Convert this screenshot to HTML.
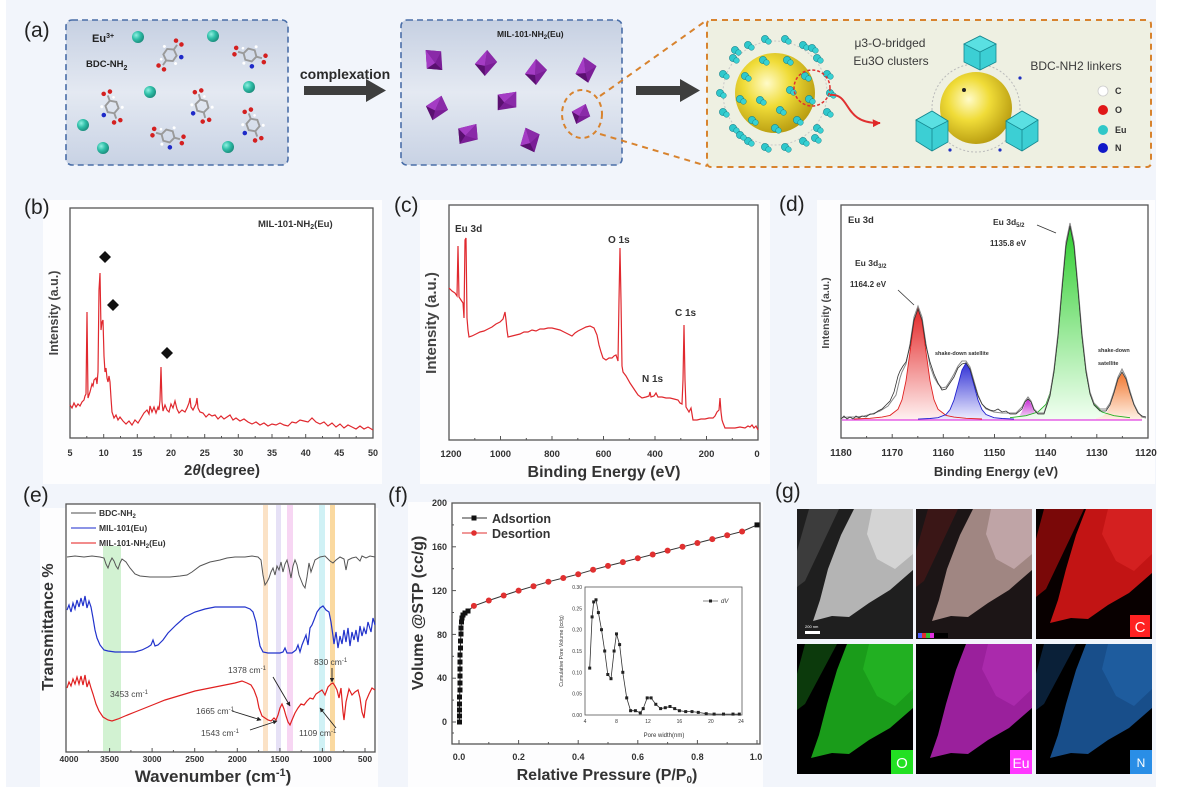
<!DOCTYPE html>
<html><head><meta charset="utf-8"><style>
html,body{margin:0;padding:0;background:#fff;}
svg{display:block;}
text{font-family:"Liberation Sans",Arial,sans-serif;}
.b{font-weight:bold;}
</style></head><body>
<svg width="1188" height="804" viewBox="0 0 1188 804" xmlns="http://www.w3.org/2000/svg">
<defs>
<linearGradient id="boxBg" x1="0" y1="0" x2="0" y2="1">
<stop offset="0" stop-color="#c6d0e2"/><stop offset="0.5" stop-color="#e4e9f2"/><stop offset="1" stop-color="#c8d2e4"/>
</linearGradient>
<radialGradient id="ysph" cx="0.4" cy="0.38" r="0.65">
<stop offset="0" stop-color="#fffbc8"/><stop offset="0.45" stop-color="#f0dc38"/><stop offset="1" stop-color="#b89c10"/>
</radialGradient>
<radialGradient id="teal" cx="0.35" cy="0.35" r="0.7">
<stop offset="0" stop-color="#8ff0e0"/><stop offset="0.5" stop-color="#2fbfa8"/><stop offset="1" stop-color="#1a8a7a"/>
</radialGradient>
<linearGradient id="gRed" x1="0" y1="0" x2="0" y2="1"><stop offset="0" stop-color="#e01010"/><stop offset="1" stop-color="#fff0f0"/></linearGradient>
<linearGradient id="gBlue" x1="0" y1="0" x2="0" y2="1"><stop offset="0" stop-color="#1a1ad0"/><stop offset="1" stop-color="#eeeeff"/></linearGradient>
<linearGradient id="gMag" x1="0" y1="0" x2="0" y2="1"><stop offset="0" stop-color="#c010d0"/><stop offset="1" stop-color="#f8e8f8"/></linearGradient>
<linearGradient id="gGreen" x1="0" y1="0" x2="0" y2="1"><stop offset="0" stop-color="#18c818"/><stop offset="1" stop-color="#f0fff0"/></linearGradient>
<linearGradient id="gOr" x1="0" y1="0" x2="0" y2="1"><stop offset="0" stop-color="#f06818"/><stop offset="1" stop-color="#fff2e6"/></linearGradient>
<marker id="ah" viewBox="0 0 10 10" refX="9" refY="5" markerWidth="5" markerHeight="5" orient="auto"><path d="M0,0 L10,5 L0,10 z" fill="#222"/></marker>
<marker id="ahr" viewBox="0 0 10 10" refX="9" refY="5" markerWidth="4" markerHeight="4" orient="auto"><path d="M0,0 L10,5 L0,10 z" fill="#e02828"/></marker>
<g id="mol">
<path d="M7,0 L3.5,6.1 L-3.5,6.1 L-7,0 L-3.5,-6.1 L3.5,-6.1 Z" fill="none" stroke="#9a9a9a" stroke-width="2"/>
<line x1="7" y1="0" x2="13" y2="0" stroke="#9a9a9a" stroke-width="2"/>
<line x1="-7" y1="0" x2="-13" y2="0" stroke="#9a9a9a" stroke-width="2"/>
<circle cx="16" cy="-3.5" r="2.4" fill="#d42020"/><circle cx="16" cy="3.5" r="2.4" fill="#d42020"/>
<circle cx="-16" cy="-3.5" r="2.4" fill="#d42020"/><circle cx="-16" cy="3.5" r="2.4" fill="#d42020"/>
<circle cx="4" cy="-10" r="1.6" fill="#fff"/><circle cx="-4" cy="10" r="1.6" fill="#fff"/><circle cx="-9" cy="-5" r="1.4" fill="#fff"/>
<circle cx="5" cy="11" r="2.4" fill="#1e2ac8"/>
</g>
<g id="oct">
<polygon points="0,-13 11,-2 0,13 -11,2" fill="#7a1e96"/>
<polygon points="0,-13 -11,2 -1,3" fill="#a43cc4"/>
<polygon points="0,-13 11,-2 -1,3" fill="#8a2aa8"/>
<polygon points="-11,2 -1,3 0,13" fill="#5a1070"/>
</g>
<g id="cb"><circle cx="0" cy="0" r="3.6" fill="#2ec8cc" stroke="#17868e" stroke-width="0.6"/><circle cx="3.5" cy="2.5" r="2.8" fill="#38d2d4" stroke="#17868e" stroke-width="0.5"/></g>
</defs>

<!-- backgrounds -->
<rect x="0" y="0" width="1188" height="804" fill="#ffffff"/>
<rect x="6" y="0" width="1150" height="787" fill="#f2f5fb"/>
<rect x="43" y="200" width="339" height="284" fill="#fdfdfe"/>
<rect x="420" y="200" width="350" height="284" fill="#fdfdfe"/>
<rect x="817" y="200" width="338" height="284" fill="#fdfdfe"/>
<rect x="40" y="508" width="338" height="279" fill="#fdfdfe"/>
<rect x="408" y="502" width="355" height="285" fill="#fdfdfe"/>

<!-- ===== (a) ===== -->
<text x="24" y="37" font-size="21" fill="#222">(a)</text>
<rect x="66" y="20" width="222" height="145" rx="6" fill="url(#boxBg)" stroke="#4a6ea8" stroke-width="1.6" stroke-dasharray="6,4"/>
<text x="92" y="42" font-size="11" class="b" fill="#222">Eu<tspan font-size="7" dy="-4">3+</tspan></text>
<text x="86" y="67" font-size="9.5" class="b" fill="#222">BDC-NH<tspan font-size="7" dy="3">2</tspan></text>
<use href="#mol" transform="translate(170,55) rotate(-55) scale(0.95)"/>
<use href="#mol" transform="translate(250,55) rotate(15) scale(0.95)"/>
<use href="#mol" transform="translate(112,107) rotate(70) scale(0.95)"/>
<use href="#mol" transform="translate(202,106) rotate(75) scale(0.95)"/>
<use href="#mol" transform="translate(168,136) rotate(15) scale(0.95)"/>
<use href="#mol" transform="translate(253,125) rotate(70) scale(0.95)"/>
<circle cx="138" cy="37" r="6" fill="url(#teal)"/>
<circle cx="213" cy="36" r="6" fill="url(#teal)"/>
<circle cx="150" cy="92" r="6" fill="url(#teal)"/>
<circle cx="249" cy="87" r="6" fill="url(#teal)"/>
<circle cx="83" cy="125" r="6" fill="url(#teal)"/>
<circle cx="103" cy="148" r="6" fill="url(#teal)"/>
<circle cx="228" cy="147" r="6" fill="url(#teal)"/>

<text x="345" y="79" font-size="14" class="b" fill="#2a2a2a" text-anchor="middle">complexation</text>
<rect x="304" y="86" width="64" height="9" fill="#3e3e3e"/>
<polygon points="366,79 386,90.5 366,102" fill="#3e3e3e"/>

<rect x="401" y="20" width="221" height="145" rx="6" fill="url(#boxBg)" stroke="#4a6ea8" stroke-width="1.6" stroke-dasharray="6,4"/>
<text x="497" y="37" font-size="8.5" class="b" fill="#222">MIL-101-NH<tspan font-size="6" dy="2">2</tspan><tspan dy="-2">(Eu)</tspan></text>
<use href="#oct" transform="translate(434,60) rotate(-40)"/>
<use href="#oct" transform="translate(486,63) rotate(5)"/>
<use href="#oct" transform="translate(536,72) rotate(0)"/>
<use href="#oct" transform="translate(586,70) rotate(-10)"/>
<use href="#oct" transform="translate(437,108) rotate(20)"/>
<use href="#oct" transform="translate(507,101) rotate(45)"/>
<use href="#oct" transform="translate(468,134) rotate(40)"/>
<use href="#oct" transform="translate(530,140) rotate(-20)"/>
<use href="#oct" transform="translate(581,114) rotate(25) scale(0.85)"/>
<ellipse cx="582" cy="114" rx="20" ry="24" fill="none" stroke="#d8832e" stroke-width="2" stroke-dasharray="5,4"/>

<rect x="636" y="86" width="46" height="9" fill="#3e3e3e"/>
<polygon points="680,79 700,90.5 680,102" fill="#3e3e3e"/>

<line x1="600" y1="96" x2="707" y2="20" stroke="#d8832e" stroke-width="2" stroke-dasharray="6,5"/>
<line x1="600" y1="134" x2="707" y2="166" stroke="#d8832e" stroke-width="2" stroke-dasharray="6,5"/>
<rect x="707" y="20" width="444" height="147" rx="4" fill="#eef0e2" stroke="#d8832e" stroke-width="2" stroke-dasharray="6,5"/>

<!-- left sphere cluster -->
<circle cx="775" cy="93" r="52" fill="none" stroke="#c8c8c8" stroke-width="1" stroke-dasharray="2,2"/>
<circle cx="775" cy="93" r="40" fill="url(#ysph)"/>
<g>
<use href="#cb" x="830" y="93"/><use href="#cb" x="827" y="112"/><use href="#cb" x="817" y="128"/><use href="#cb" x="803" y="141"/>
<use href="#cb" x="785" y="147"/><use href="#cb" x="765" y="147"/><use href="#cb" x="748" y="141"/><use href="#cb" x="733" y="128"/>
<use href="#cb" x="723" y="112"/><use href="#cb" x="720" y="93"/><use href="#cb" x="723" y="74"/><use href="#cb" x="733" y="58"/>
<use href="#cb" x="748" y="45"/><use href="#cb" x="765" y="39"/><use href="#cb" x="785" y="39"/><use href="#cb" x="803" y="45"/>
<use href="#cb" x="817" y="58"/><use href="#cb" x="827" y="74"/>
<use href="#cb" x="809" y="99"/><use href="#cb" x="797" y="120"/><use href="#cb" x="775" y="128"/><use href="#cb" x="752" y="120"/>
<use href="#cb" x="740" y="99"/><use href="#cb" x="745" y="76"/><use href="#cb" x="763" y="60"/><use href="#cb" x="787" y="60"/>
<use href="#cb" x="805" y="76"/><use href="#cb" x="790" y="90"/><use href="#cb" x="760" y="100"/><use href="#cb" x="780" y="110"/>
<use href="#cb" x="740" y="135"/><use href="#cb" x="815" y="138"/><use href="#cb" x="735" y="50"/><use href="#cb" x="812" y="48"/>
</g>
<circle cx="812" cy="88" r="18" fill="none" stroke="#e03030" stroke-width="1.5" stroke-dasharray="3,2"/>
<path d="M830,95 C852,93 842,124 880,123" fill="none" stroke="#e03030" stroke-width="2" marker-end="url(#ahr)"/>
<text x="890" y="47" font-size="12" fill="#3a3a3a" text-anchor="middle">μ3-O-bridged</text>
<text x="891" y="65" font-size="12" fill="#3a3a3a" text-anchor="middle">Eu3O clusters</text>

<!-- right sphere -->
<circle cx="976" cy="108" r="44" fill="none" stroke="#bbbbbb" stroke-width="1" stroke-dasharray="2,2"/>
<circle cx="976" cy="108" r="36" fill="url(#ysph)"/>
<g fill="#3ccfd4" stroke="#168890" stroke-width="0.8">
<polygon points="964,44 980,36 996,44 996,62 980,70 964,62"/>
<polygon points="964,44 980,52 996,44 980,36" fill="#5ae0e2"/>
<line x1="980" y1="52" x2="980" y2="70"/>
<polygon points="916,120 932,111 948,121 948,142 932,151 916,141"/>
<polygon points="916,120 932,129 948,121 932,111" fill="#5ae0e2"/>
<line x1="932" y1="129" x2="932" y2="151"/>
<polygon points="1006,121 1022,111 1038,120 1038,141 1022,151 1006,142"/>
<polygon points="1006,121 1022,130 1038,120 1022,111" fill="#5ae0e2"/>
<line x1="1022" y1="130" x2="1022" y2="151"/>
</g>
<circle cx="964" cy="90" r="2" fill="#222"/>
<circle cx="1020" cy="78" r="1.6" fill="#2030c0"/><circle cx="950" cy="150" r="1.6" fill="#2030c0"/><circle cx="1000" cy="150" r="1.6" fill="#2030c0"/>
<text x="1076" y="70" font-size="12" fill="#3a3a3a" text-anchor="middle">BDC-NH2 linkers</text>
<circle cx="1103" cy="91" r="5" fill="#ffffff" stroke="#cccccc" stroke-width="0.8"/>
<circle cx="1103" cy="110" r="5" fill="#e01818"/>
<circle cx="1103" cy="130" r="5" fill="#30c8c8"/>
<circle cx="1103" cy="148" r="5" fill="#1018c8"/>
<g font-size="9" class="b" fill="#333">
<text x="1115" y="94">C</text><text x="1115" y="113">O</text><text x="1115" y="133">Eu</text><text x="1115" y="151">N</text>
</g>

<!-- ===== (b) ===== -->
<text x="24" y="214" font-size="21" fill="#222">(b)</text>
<rect x="70" y="208" width="303" height="230" fill="#fff" stroke="#555" stroke-width="1.3"/>
<g stroke="#555" stroke-width="1">
<line x1="103.7" y1="438" x2="103.7" y2="434"/><line x1="137.3" y1="438" x2="137.3" y2="434"/><line x1="171" y1="438" x2="171" y2="434"/><line x1="204.7" y1="438" x2="204.7" y2="434"/><line x1="238.3" y1="438" x2="238.3" y2="434"/><line x1="272" y1="438" x2="272" y2="434"/><line x1="305.7" y1="438" x2="305.7" y2="434"/><line x1="339.3" y1="438" x2="339.3" y2="434"/>
<line x1="86.8" y1="438" x2="86.8" y2="436"/><line x1="120.5" y1="438" x2="120.5" y2="436"/><line x1="154.2" y1="438" x2="154.2" y2="436"/><line x1="187.8" y1="438" x2="187.8" y2="436"/><line x1="221.5" y1="438" x2="221.5" y2="436"/><line x1="255.2" y1="438" x2="255.2" y2="436"/><line x1="288.8" y1="438" x2="288.8" y2="436"/><line x1="322.5" y1="438" x2="322.5" y2="436"/><line x1="356.2" y1="438" x2="356.2" y2="436"/>
</g>
<g font-size="9" class="b" fill="#333" text-anchor="middle">
<text x="70" y="456">5</text><text x="103.7" y="456">10</text><text x="137.3" y="456">15</text><text x="171" y="456">20</text><text x="204.7" y="456">25</text><text x="238.3" y="456">30</text><text x="272" y="456">35</text><text x="305.7" y="456">40</text><text x="339.3" y="456">45</text><text x="373" y="456">50</text>
</g>
<text x="222" y="475" font-size="15" class="b" fill="#333" text-anchor="middle">2<tspan font-style="italic">θ</tspan>(degree)</text>
<text transform="translate(58,313) rotate(-90)" font-size="12.5" class="b" fill="#444" text-anchor="middle">Intensity (a.u.)</text>
<text x="258" y="227" font-size="9.5" class="b" fill="#333">MIL-101-NH<tspan font-size="7" dy="2">2</tspan><tspan dy="-2">(Eu)</tspan></text>
<polyline fill="none" stroke="#e0282e" stroke-width="1.2" points="70,405 72,408 74,403 76,407 78,404 80,406 82,402 84,400 85,396 86,394 87,312 88,398 90,392 92,384 93,386 94,380 96,378 97,384 98,372 99,290 100,273 101,330 102,322 103,320 104,356 105,372 106,368 107,378 108,382 109,376 110,382 111,398 112,412 114,418 116,415 118,420 120,417 123,421 126,424 129,421 132,425 135,420 138,423 141,418 144,413 147,410 149,414 150,406 152,412 154,407 156,413 158,407 159,410 160,400 161,367 162,402 163,411 165,405 167,410 169,412 171,404 173,408 175,401 177,409 179,413 182,410 185,412 187,408 189,403 190,398 191,407 193,410 196,404 197,398 198,408 200,412 203,413 206,417 209,414 212,416 215,415 218,419 221,416 224,419 227,417 230,415 233,420 236,418 240,421 244,419 248,422 252,424 256,422 260,425 264,423 268,426 272,424 276,425 280,423 284,425 288,426 292,422 296,423 300,420 304,421 308,422 312,418 316,422 320,424 324,422 328,426 332,423 336,427 340,424 344,428 348,425 352,427 356,429 360,426 364,429 368,427 373,430"/>
<g fill="#111">
<polygon points="105,251 111,257 105,263 99,257"/>
<polygon points="113,299 119,305 113,311 107,305"/>
<polygon points="167,347 173,353 167,359 161,353"/>
</g>

<!-- ===== (c) ===== -->
<text x="394" y="212" font-size="21" fill="#222">(c)</text>
<rect x="449" y="205" width="309" height="235" fill="#fff" stroke="#555" stroke-width="1.3"/>
<g stroke="#555" stroke-width="1">
<line x1="500.5" y1="440" x2="500.5" y2="436"/><line x1="552" y1="440" x2="552" y2="436"/><line x1="603.5" y1="440" x2="603.5" y2="436"/><line x1="655" y1="440" x2="655" y2="436"/><line x1="706.5" y1="440" x2="706.5" y2="436"/>
<line x1="474.8" y1="440" x2="474.8" y2="438"/><line x1="526.3" y1="440" x2="526.3" y2="438"/><line x1="577.8" y1="440" x2="577.8" y2="438"/><line x1="629.3" y1="440" x2="629.3" y2="438"/><line x1="680.8" y1="440" x2="680.8" y2="438"/><line x1="732.3" y1="440" x2="732.3" y2="438"/>
</g>
<g font-size="9.5" class="b" fill="#333" text-anchor="middle">
<text x="451" y="457">1200</text><text x="500.5" y="457">1000</text><text x="552" y="457">800</text><text x="603.5" y="457">600</text><text x="655" y="457">400</text><text x="706.5" y="457">200</text><text x="757" y="457">0</text>
</g>
<text x="604" y="477" font-size="16" class="b" fill="#333" text-anchor="middle">Binding Energy (eV)</text>
<text transform="translate(436,323) rotate(-90)" font-size="15" class="b" fill="#444" text-anchor="middle">Intensity (a.u.)</text>
<g font-size="10" class="b" fill="#333">
<text x="455" y="232">Eu 3d</text><text x="608" y="243">O 1s</text><text x="675" y="316">C 1s</text><text x="642" y="382">N 1s</text>
</g>
<polyline fill="none" stroke="#e0282e" stroke-width="1.2" points="449,288 452,291 455,293 457,296 458,246 459,297 461,300 463,303 464,318 465,240 466,238 467,318 468,330 469,337 472,336 476,334 480,332 484,331 488,329 492,327 496,324 500,322 503,319 505,312 506,320 507,330 508,337 512,336 516,335 520,334 524,332 528,332 532,330 536,331 540,329 544,329 548,328 552,328 556,329 560,330 564,332 568,334 572,336 575,333 578,331 582,329 586,327 590,326 594,328 597,335 599,345 601,352 603,358 606,360 609,358 612,358 614,356 616,355 618,361 619,300 620,248 621,300 622,366 623,372 626,376 630,383 634,389 638,395 642,398 646,397 649,396 650,392 651,397 654,396 656,393 658,397 662,397 666,398 670,398 674,399 678,400 680,403 682,404 683,380 684,325 685,380 686,407 689,412 691,408 692,414 693,420 697,420 701,419 705,419 709,418 713,418 715,416 717,412 719,410 720,398 721,412 722,420 723,423 725,428 730,428 735,428 740,427 745,428 748,426 750,427 752,425 754,428 756,426 758,430"/>

<!-- ===== (d) ===== -->
<text x="779" y="211" font-size="21" fill="#222">(d)</text>
<rect x="841" y="205" width="307" height="233" fill="#fff" stroke="#555" stroke-width="1.3"/>
<g stroke="#555" stroke-width="1">
<line x1="892.2" y1="438" x2="892.2" y2="434"/><line x1="943.3" y1="438" x2="943.3" y2="434"/><line x1="994.5" y1="438" x2="994.5" y2="434"/><line x1="1045.7" y1="438" x2="1045.7" y2="434"/><line x1="1096.8" y1="438" x2="1096.8" y2="434"/>
<line x1="866.6" y1="438" x2="866.6" y2="436"/><line x1="917.8" y1="438" x2="917.8" y2="436"/><line x1="968.9" y1="438" x2="968.9" y2="436"/><line x1="1020.1" y1="438" x2="1020.1" y2="436"/><line x1="1071.3" y1="438" x2="1071.3" y2="436"/><line x1="1122.4" y1="438" x2="1122.4" y2="436"/>
</g>
<g font-size="10" class="b" fill="#333" text-anchor="middle">
<text x="841" y="456">1180</text><text x="892.2" y="456">1170</text><text x="943.3" y="456">1160</text><text x="994.5" y="456">1150</text><text x="1045.7" y="456">1140</text><text x="1096.8" y="456">1130</text><text x="1146" y="456">1120</text>
</g>
<text x="996" y="476" font-size="13" class="b" fill="#333" text-anchor="middle">Binding Energy (eV)</text>
<text transform="translate(829,313) rotate(-90)" font-size="10.5" class="b" fill="#444" text-anchor="middle">Intensity (a.u.)</text>
<path fill="url(#gRed)" opacity="0.9" d="M846,420 L854,419 870,418.3 882,417.1 890,415.4 898,409.2 902,399.8 906,380.8 910,351.9 914,321.7 918,308 922,321.7 926,351.9 930,380.8 934,399.8 938,409.2 946,415.4 954,417.1 966,418.3 982,419 982,420 Z"/>
<path fill="url(#gBlue)" opacity="0.9" d="M918,420 L918,419.1 930,418.5 938,417.7 946,414.5 950,409.7 954,400 958,385.3 962,370 966,363 970,370 974,385.3 978,400 982,409.7 986,414.5 994,417.7 1002,418.5 1014,419.1 1014,420 Z"/>
<path fill="url(#gMag)" opacity="0.9" d="M1010,420 L1010,419.4 1016,418.5 1019,416.5 1022,411.4 1025,403.5 1028,399 1031,403.5 1034,411.4 1037,416.5 1040,418.5 1046,419.4 1046,420 Z"/>
<path fill="url(#gGreen)" opacity="0.9" d="M1010,420 L1010,417.7 1026,415.7 1038,412 1046,404.3 1050,393.2 1054,371.5 1058,335.8 1062,288.5 1066,244.6 1070,226 1074,244.6 1078,288.5 1082,335.8 1086,371.5 1090,393.2 1094,404.3 1102,412 1114,415.7 1130,417.7 1130,420 Z"/>
<path fill="url(#gOr)" opacity="0.9" d="M1096,420 L1096,418.2 1102,416.6 1106,413.5 1110,406.4 1114,394 1118,379.8 1122,373 1126,379.8 1130,394 1134,406.4 1138,413.5 1142,416.6 1142,420 Z"/>
<line x1="842" y1="420" x2="1142" y2="420" stroke="#e040e0" stroke-width="1.3"/>
<polyline fill="none" stroke="#e02020" stroke-width="0.9" points="854,419 870,418.3 882,417.1 890,415.4 898,409.2 902,399.8 906,380.8 910,351.9 914,321.7 918,308 922,321.7 926,351.9 930,380.8 934,399.8 938,409.2 946,415.4 954,417.1 966,418.3 982,419"/>
<polyline fill="none" stroke="#2020d0" stroke-width="0.9" points="918,419.1 930,418.5 938,417.7 946,414.5 950,409.7 954,400 958,385.3 962,370 966,363 970,370 974,385.3 978,400 982,409.7 986,414.5 994,417.7 1002,418.5 1014,419.1"/>
<polyline fill="none" stroke="#20b020" stroke-width="0.9" points="1010,417.7 1026,415.7 1038,412 1046,404.3 1050,393.2 1054,371.5 1058,335.8 1062,288.5 1066,244.6 1070,226 1074,244.6 1078,288.5 1082,335.8 1086,371.5 1090,393.2 1094,404.3 1102,412 1114,415.7 1130,417.7"/>
<polyline fill="none" stroke="#888" stroke-width="1" points="841,418 848,417 856,417 864,416 872,414 880,411 888,406 896,395 900,378 902,372 906,364 910,344 914,317 918,306 922,317 926,344 930,366 934,377 938,384 942,388 946,387 950,381 954,374 958,366 962,361 966,361 970,367 974,381 978,395 982,404 986,409 994,412 1002,413 1010,413 1016,413 1022,407 1025,401 1028,397 1031,401 1034,409 1038,413 1044,413 1050,394 1054,369 1058,333 1062,286 1066,242 1070,223 1074,242 1078,286 1082,333 1086,369 1090,392 1094,403 1100,409 1106,409 1110,403 1114,391 1118,377 1122,369 1126,377 1130,391 1134,404 1138,412 1142,417 1146,418"/>
<polyline fill="none" stroke="#333" stroke-width="0.8" points="841,419 844,416 847,419 850,417 853,419 856,416 859,418 862,416 866,417 870,414 874,414 878,411 882,409 886,405 890,401 894,392 898,376 900,371 903,366 906,362 910,346 914,320 918,309 922,320 926,346 930,362 934,374 938,383 942,390 946,389 950,383 954,377 958,368 962,364 966,363 970,369 974,383 978,396 982,404 986,408 990,410 994,411 998,409 1002,412 1006,411 1010,414 1016,414 1022,409 1025,402 1028,399 1031,402 1034,410 1038,414 1044,414 1050,396 1054,372 1058,337 1062,290 1066,246 1070,226 1074,246 1078,290 1082,337 1086,372 1090,394 1094,405 1100,411 1106,411 1110,405 1114,393 1118,379 1122,372 1126,379 1130,393 1134,405 1138,413 1142,416 1146,417"/>
<g class="b" fill="#333">
<text x="848" y="223" font-size="9.5">Eu 3d</text>
<text x="993" y="225" font-size="8.5">Eu 3d<tspan font-size="6" dy="2">5/2</tspan></text>
<text x="990" y="246" font-size="8">1135.8 eV</text>
<text x="855" y="266" font-size="8.5">Eu 3d<tspan font-size="6" dy="2">3/2</tspan></text>
<text x="850" y="287" font-size="8">1164.2 eV</text>
<text x="935" y="355" font-size="5.5">shake-down satellite</text>
<text x="1098" y="352" font-size="5.5">shake-down</text>
<text x="1098" y="365" font-size="5.5">satellite</text>
</g>
<line x1="1037" y1="225" x2="1056" y2="233" stroke="#333" stroke-width="0.8"/>
<line x1="898" y1="290" x2="914" y2="305" stroke="#333" stroke-width="0.8"/>

<!-- ===== (e) ===== -->
<text x="23" y="502" font-size="21" fill="#222">(e)</text>
<rect x="66" y="504" width="309" height="248" fill="#fff" stroke="#555" stroke-width="1.3"/>
<rect x="103" y="546" width="18" height="205" fill="#9be39b" opacity="0.45"/>
<rect x="263" y="505" width="5" height="246" fill="#f8cfa0" opacity="0.6"/>
<rect x="276" y="505" width="5" height="246" fill="#dcd4f2" opacity="0.7"/>
<rect x="287" y="505" width="6" height="246" fill="#f4c4ee" opacity="0.7"/>
<rect x="319" y="505" width="6" height="246" fill="#c4eef2" opacity="0.8"/>
<rect x="330" y="505" width="5" height="246" fill="#f6c060" opacity="0.6"/>
<g stroke="#555" stroke-width="1">
<line x1="109.6" y1="752" x2="109.6" y2="748"/><line x1="152.1" y1="752" x2="152.1" y2="748"/><line x1="194.7" y1="752" x2="194.7" y2="748"/><line x1="237.3" y1="752" x2="237.3" y2="748"/><line x1="279.9" y1="752" x2="279.9" y2="748"/><line x1="322.4" y1="752" x2="322.4" y2="748"/><line x1="365" y1="752" x2="365" y2="748"/>
<line x1="88.3" y1="752" x2="88.3" y2="750"/><line x1="130.9" y1="752" x2="130.9" y2="750"/><line x1="173.4" y1="752" x2="173.4" y2="750"/><line x1="216" y1="752" x2="216" y2="750"/><line x1="258.6" y1="752" x2="258.6" y2="750"/><line x1="301.2" y1="752" x2="301.2" y2="750"/><line x1="343.7" y1="752" x2="343.7" y2="750"/>
</g>
<g font-size="8.5" class="b" fill="#333" text-anchor="middle">
<text x="69" y="762">4000</text><text x="109.6" y="762">3500</text><text x="152.1" y="762">3000</text><text x="194.7" y="762">2500</text><text x="237.3" y="762">2000</text><text x="279.9" y="762">1500</text><text x="322.4" y="762">1000</text><text x="365" y="762">500</text>
</g>
<text x="213" y="782" font-size="17" class="b" fill="#333" text-anchor="middle">Wavenumber (cm<tspan font-size="11" dy="-6">-1</tspan><tspan dy="6">)</tspan></text>
<text transform="translate(53,627) rotate(-90)" font-size="16" class="b" fill="#333" text-anchor="middle">Transmittance %</text>
<line x1="71" y1="513" x2="96" y2="513" stroke="#888" stroke-width="1.5"/>
<line x1="71" y1="528" x2="96" y2="528" stroke="#6670dd" stroke-width="1.5"/>
<line x1="71" y1="543" x2="96" y2="543" stroke="#ee6666" stroke-width="1.5"/>
<g font-size="8.5" class="b" fill="#333">
<text x="99" y="516">BDC-NH<tspan font-size="6" dy="2">2</tspan></text>
<text x="99" y="531">MIL-101(Eu)</text>
<text x="99" y="546">MIL-101-NH<tspan font-size="6" dy="2">2</tspan><tspan dy="-2">(Eu)</tspan></text>
</g>
<polyline fill="none" stroke="#555" stroke-width="1" points="67,557 75,556 84,557 92,556 100,557 104,558 106,564 108,568 110,562 112,558 114,561 116,566 118,569 120,563 122,559 126,562 130,568 135,574 140,576 150,577 160,577 170,577 180,576 187,575 192,572 200,566 210,562 220,560 227,558 235,557 245,557 252,556 258,557 261,560 263,575 265,585 267,582 269,578 271,572 273,568 275,575 277,566 279,570 281,562 283,572 285,564 287,560 289,568 291,578 293,566 295,560 297,565 299,575 301,580 303,585 305,588 307,577 309,563 311,572 313,566 315,560 320,557 325,556 330,561 333,563 336,560 340,557 344,559 346,570 348,560 352,558 356,557 360,561 362,556 366,558 370,556 375,557"/>
<polyline fill="none" stroke="#2233cc" stroke-width="1.2" points="67,610 69,605 71,612 73,603 75,609 77,600 79,607 81,598 83,606 85,596 87,608 89,601 91,607 93,618 95,630 97,638 100,645 104,650 108,651 115,652 125,652 135,652 142,650 148,647 151,645 153,640 155,646 158,645 163,640 168,633 176,625 185,617 195,612 205,609 215,607 225,607 235,607 245,607 250,609 253,612 256,622 258,635 260,646 263,652 268,653 275,653 280,653 283,652 285,648 287,653 292,653 296,650 298,645 300,652 302,645 304,640 306,635 308,645 310,628 312,625 314,620 317,612 320,608 323,606 326,610 329,612 331,622 333,636 334,644 336,632 338,648 340,636 342,644 344,630 346,642 348,628 350,646 352,632 354,640 356,630 358,642 360,626 362,636 364,628 366,634 368,622 371,632 373,618 375,625"/>
<polyline fill="none" stroke="#e02020" stroke-width="1.2" points="67,688 69,682 71,686 73,679 75,684 77,677 79,684 81,676 83,685 85,675 87,687 89,681 91,688 93,694 96,704 99,711 103,717 108,720 112,721 118,719 125,716 135,712 145,708 155,704 165,700 175,697 185,694 195,691 205,689 215,687 225,685 235,683 242,681 247,683 251,685 254,690 257,698 259,708 262,716 265,718 268,720 271,721 274,718 276,720 278,715 280,708 282,704 284,709 286,716 288,722 290,725 292,720 295,713 298,708 301,704 304,705 307,701 310,698 313,699 316,694 319,692 322,690 325,695 328,687 331,684 333,683 335,686 337,690 339,698 341,688 343,712 344,720 346,702 349,689 352,695 355,692 358,690 360,698 362,712 364,718 366,701 369,694 372,688 375,690"/>
<g font-size="8.5" fill="#444">
<text x="110" y="697">3453 cm<tspan font-size="6" dy="-3">-1</tspan></text>
<text x="228" y="673">1378 cm<tspan font-size="6" dy="-3">-1</tspan></text>
<text x="196" y="714">1665 cm<tspan font-size="6" dy="-3">-1</tspan></text>
<text x="201" y="736">1543 cm<tspan font-size="6" dy="-3">-1</tspan></text>
<text x="314" y="665">830 cm<tspan font-size="6" dy="-3">-1</tspan></text>
<text x="299" y="736">1109 cm<tspan font-size="6" dy="-3">-1</tspan></text>
</g>
<g stroke="#222" stroke-width="0.9" marker-end="url(#ah)">
<line x1="273" y1="677" x2="290" y2="706"/>
<line x1="232" y1="711" x2="261" y2="720"/>
<line x1="250" y1="730" x2="277" y2="721"/>
<line x1="332" y1="668" x2="332" y2="682"/>
<line x1="336" y1="728" x2="320" y2="708"/>
</g>

<!-- ===== (f) ===== -->
<text x="388" y="502" font-size="21" fill="#222">(f)</text>
<rect x="452" y="503" width="308" height="241" fill="#fff" stroke="#555" stroke-width="1.3"/>
<g stroke="#555" stroke-width="1">
<line x1="452" y1="722" x2="456" y2="722"/><line x1="452" y1="678.2" x2="456" y2="678.2"/><line x1="452" y1="634.4" x2="456" y2="634.4"/><line x1="452" y1="590.6" x2="456" y2="590.6"/><line x1="452" y1="546.8" x2="456" y2="546.8"/>
<line x1="452" y1="700.1" x2="454" y2="700.1"/><line x1="452" y1="656.3" x2="454" y2="656.3"/><line x1="452" y1="612.5" x2="454" y2="612.5"/><line x1="452" y1="568.7" x2="454" y2="568.7"/><line x1="452" y1="524.9" x2="454" y2="524.9"/><line x1="452" y1="733" x2="454" y2="733"/>
<line x1="459" y1="744" x2="459" y2="740"/><line x1="518.6" y1="744" x2="518.6" y2="740"/><line x1="578.2" y1="744" x2="578.2" y2="740"/><line x1="637.8" y1="744" x2="637.8" y2="740"/><line x1="697.4" y1="744" x2="697.4" y2="740"/><line x1="757" y1="744" x2="757" y2="740"/>
<line x1="488.8" y1="744" x2="488.8" y2="742"/><line x1="548.4" y1="744" x2="548.4" y2="742"/><line x1="608" y1="744" x2="608" y2="742"/><line x1="667.6" y1="744" x2="667.6" y2="742"/><line x1="727.2" y1="744" x2="727.2" y2="742"/>
</g>
<g font-size="9" class="b" fill="#333" text-anchor="end">
<text x="447" y="506">200</text><text x="447" y="550">160</text><text x="447" y="594">120</text><text x="447" y="638">80</text><text x="447" y="681">40</text><text x="447" y="725">0</text>
</g>
<g font-size="9" class="b" fill="#333" text-anchor="middle">
<text x="459" y="760">0.0</text><text x="518.6" y="760">0.2</text><text x="578.2" y="760">0.4</text><text x="637.8" y="760">0.6</text><text x="697.4" y="760">0.8</text><text x="756" y="760">1.0</text>
</g>
<text x="607" y="780" font-size="16" class="b" fill="#333" text-anchor="middle">Relative Pressure (P/P<tspan font-size="10" dy="3">0</tspan><tspan dy="-3">)</tspan></text>
<text transform="translate(423,613) rotate(-90)" font-size="16" class="b" fill="#333" text-anchor="middle">Volume @STP (cc/g)</text>
<line x1="462" y1="518" x2="487" y2="518" stroke="#333" stroke-width="1"/>
<rect x="471.5" y="515.5" width="5" height="5" fill="#111"/>
<line x1="462" y1="533" x2="487" y2="533" stroke="#e03030" stroke-width="1"/>
<circle cx="474" cy="533" r="2.8" fill="#e03030"/>
<text x="492" y="523" font-size="12.5" class="b" fill="#333">Adsortion</text>
<text x="492" y="538" font-size="12.5" class="b" fill="#333">Desortion</text>
<polyline fill="none" stroke="#333" stroke-width="1" points="459.5,722 459.5,704 460,683 460,662 460.5,645 461,630 461.5,622 462,618 463,615 465,613 468,611 473.9,605.9 488.8,600.5 503.7,595.5 518.6,590.6 533.5,586.2 548.4,581.8 563.3,578 578.2,574.2 593.1,569.8 608,565.9 622.9,562.1 637.8,558.3 652.7,554.5 667.6,550.6 682.5,546.8 697.4,543 712.3,539.1 727.2,535.3 742.1,531.5 757,524.9"/>
<g fill="#111">
<rect x="457" y="719.5" width="5" height="5"/><rect x="457" y="713.5" width="5" height="5"/><rect x="457" y="707.5" width="5" height="5"/><rect x="457" y="701.5" width="5" height="5"/><rect x="457" y="694.5" width="5" height="5"/><rect x="457.5" y="687.5" width="5" height="5"/><rect x="457.5" y="680.5" width="5" height="5"/><rect x="457.5" y="673.5" width="5" height="5"/><rect x="457.5" y="666.5" width="5" height="5"/><rect x="457.5" y="659.5" width="5" height="5"/><rect x="457.5" y="652.5" width="5" height="5"/><rect x="458" y="645.5" width="5" height="5"/><rect x="458" y="638.5" width="5" height="5"/><rect x="458.5" y="631.5" width="5" height="5"/><rect x="458.5" y="625.5" width="5" height="5"/><rect x="459" y="619.5" width="5" height="5"/><rect x="459.5" y="615.5" width="5" height="5"/><rect x="460.5" y="612.5" width="5" height="5"/><rect x="462.5" y="610.5" width="5" height="5"/><rect x="465.5" y="608.5" width="5" height="5"/><rect x="754.5" y="522.4" width="5" height="5"/>
</g>
<g fill="#e03030">
<circle cx="473.9" cy="605.9" r="3"/><circle cx="488.8" cy="600.5" r="3"/><circle cx="503.7" cy="595.5" r="3"/><circle cx="518.6" cy="590.6" r="3"/><circle cx="533.5" cy="586.2" r="3"/><circle cx="548.4" cy="581.8" r="3"/><circle cx="563.3" cy="578" r="3"/><circle cx="578.2" cy="574.2" r="3"/><circle cx="593.1" cy="569.8" r="3"/><circle cx="608" cy="565.9" r="3"/><circle cx="622.9" cy="562.1" r="3"/><circle cx="637.8" cy="558.3" r="3"/><circle cx="652.7" cy="554.5" r="3"/><circle cx="667.6" cy="550.6" r="3"/><circle cx="682.5" cy="546.8" r="3"/><circle cx="697.4" cy="543" r="3"/><circle cx="712.3" cy="539.1" r="3"/><circle cx="727.2" cy="535.3" r="3"/><circle cx="742.1" cy="531.5" r="3"/>
</g>
<!-- inset -->
<rect x="585" y="587" width="157" height="128" fill="#fff" stroke="#555" stroke-width="0.8"/>
<g font-size="5" fill="#333" text-anchor="end">
<text x="582" y="717">0.00</text><text x="582" y="695.7">0.05</text><text x="582" y="674.3">0.10</text><text x="582" y="653">0.15</text><text x="582" y="631.7">0.20</text><text x="582" y="610.3">0.25</text><text x="582" y="589">0.30</text>
</g>
<g font-size="5" fill="#333" text-anchor="middle">
<text x="585" y="723">4</text><text x="616.5" y="723">8</text><text x="648" y="723">12</text><text x="679.4" y="723">16</text><text x="710.9" y="723">20</text><text x="741" y="723">24</text>
</g>
<text x="664" y="737" font-size="6" fill="#333" text-anchor="middle">Pore width(nm)</text>
<text transform="translate(563,651) rotate(-90)" font-size="5.2" fill="#333" text-anchor="middle">Cumulative Pore Volume (cc/g)</text>
<line x1="703" y1="601" x2="718" y2="601" stroke="#333" stroke-width="0.6"/><rect x="709" y="599.5" width="3" height="3" fill="#222"/>
<text x="721" y="603" font-size="6" font-style="italic" fill="#333">dV</text>
<polyline fill="none" stroke="#333" stroke-width="0.8" points="589.7,668.1 592.1,616.9 593.7,601.9 596,599.8 598.4,612.6 601.5,629.7 604.7,651 607.8,674.5 611,678.7 614.1,651 616.5,633.9 619.6,644.6 622.8,672.3 626.7,697.9 630.6,710.7 635.4,710.7 640.3,712.9 643.2,708.6 647.2,697.9 651.1,697.9 655.8,704.3 660.6,708.6 665.3,707.7 670,706.5 674.7,708.6 679.4,710.7 685.7,711.6 692,711.6 698.3,712.4 706.2,713.7 714.1,714.1 723.5,714.1 733,714.1 739.3,714.1"/>
<g fill="#222">
<rect x="588.2" y="666.6" width="3" height="3"/><rect x="590.6" y="615.4" width="3" height="3"/><rect x="592.2" y="600.4" width="3" height="3"/><rect x="594.5" y="598.3" width="3" height="3"/><rect x="596.9" y="611.1" width="3" height="3"/><rect x="600" y="628.2" width="3" height="3"/><rect x="603.2" y="649.5" width="3" height="3"/><rect x="606.3" y="673" width="3" height="3"/><rect x="609.5" y="677.2" width="3" height="3"/><rect x="612.6" y="649.5" width="3" height="3"/><rect x="615" y="632.4" width="3" height="3"/><rect x="618.1" y="643.1" width="3" height="3"/><rect x="621.3" y="670.8" width="3" height="3"/><rect x="625.2" y="696.4" width="3" height="3"/><rect x="629.1" y="709.2" width="3" height="3"/><rect x="633.9" y="709.2" width="3" height="3"/><rect x="638.8" y="711.4" width="3" height="3"/><rect x="641.7" y="707.1" width="3" height="3"/><rect x="645.7" y="696.4" width="3" height="3"/><rect x="649.6" y="696.4" width="3" height="3"/><rect x="654.3" y="702.8" width="3" height="3"/><rect x="659.1" y="707.1" width="3" height="3"/><rect x="663.8" y="706.2" width="3" height="3"/><rect x="668.5" y="705" width="3" height="3"/><rect x="673.2" y="707.1" width="3" height="3"/><rect x="677.9" y="709.2" width="3" height="3"/><rect x="684.2" y="710.1" width="3" height="3"/><rect x="690.5" y="710.1" width="3" height="3"/><rect x="696.8" y="710.9" width="3" height="3"/><rect x="704.7" y="712.2" width="3" height="3"/><rect x="712.6" y="712.6" width="3" height="3"/><rect x="722" y="712.6" width="3" height="3"/><rect x="731.5" y="712.6" width="3" height="3"/><rect x="737.8" y="712.6" width="3" height="3"/>
</g>

<!-- ===== (g) ===== -->
<text x="775" y="498" font-size="21" fill="#222">(g)</text>
<g transform="translate(797,509)">
<rect width="116" height="130" fill="#1f1f1f"/>
<polygon points="12,0 42,0 8,72 0,78 0,42" fill="#3c3c3c"/>
<polygon points="57,0 116,0 116,61 93,81 72,94 52,108 35,107 16,112 23,91 31,60 44,26" fill="#b4b4b4"/>
<polygon points="75,0 116,0 116,45 98,60 80,50 70,25" fill="#d4d4d4"/>
<rect x="8" y="122" width="15" height="3" fill="#fff"/>
<text x="8" y="119" font-size="4" fill="#fff">200 nm</text>
</g>
<g transform="translate(916,509)">
<rect width="116" height="130" fill="#1c1516"/>
<polygon points="12,0 42,0 8,72 0,78 0,42" fill="#3a1616"/>
<polygon points="57,0 116,0 116,61 93,81 72,94 52,108 35,107 16,112 23,91 31,60 44,26" fill="#a08682"/>
<polygon points="75,0 116,0 116,45 98,60 80,50 70,25" fill="#bfa4a6"/>
<rect x="2" y="124" width="4" height="5" fill="#5060ff"/><rect x="6" y="124" width="4" height="5" fill="#e03030"/><rect x="10" y="124" width="4" height="5" fill="#30c030"/><rect x="14" y="124" width="4" height="5" fill="#e030e0"/><rect x="18" y="124" width="14" height="5" fill="#000"/>
</g>
<g transform="translate(1036,509)">
<rect width="116" height="130" fill="#080000"/>
<polygon points="8,0 48,0 10,80 0,88 0,30" fill="#7a0808"/>
<polygon points="50,0 116,0 116,64 93,84 72,96 52,110 35,109 14,114 22,91 30,60 40,26" fill="#c21414"/>
<polygon points="72,0 116,0 116,45 98,62 80,52 66,25" fill="#d42020"/>
<rect x="94" y="106" width="20" height="22" fill="#ff2222"/>
<text x="104" y="123" font-size="15" fill="#fff" text-anchor="middle">C</text>
</g>
<g transform="translate(797,644)">
<rect width="116" height="130" fill="#000"/>
<polygon points="8,0 40,0 8,60 0,66 0,30" fill="#0c3a0c"/>
<polygon points="50,0 116,0 116,64 93,84 72,96 52,110 35,109 14,114 22,91 30,60 40,26" fill="#1a9c1a"/>
<polygon points="72,0 116,0 116,45 98,62 80,52 66,25" fill="#22b022"/>
<rect x="94" y="106" width="22" height="24" fill="#22e022"/>
<text x="105" y="124" font-size="15" fill="#fff" text-anchor="middle">O</text>
</g>
<g transform="translate(916,644)">
<rect width="116" height="130" fill="#000"/>
<polygon points="50,0 116,0 116,64 93,84 72,96 52,110 35,109 14,114 22,91 30,60 40,26" fill="#9a209c"/>
<polygon points="72,0 116,0 116,45 98,62 80,52 66,25" fill="#aa2aac"/>
<rect x="94" y="106" width="22" height="24" fill="#ff38ff"/>
<text x="105" y="124" font-size="14" fill="#fff" text-anchor="middle">Eu</text>
</g>
<g transform="translate(1036,644)">
<rect width="116" height="130" fill="#000"/>
<polygon points="8,0 40,0 8,60 0,66 0,30" fill="#0a2038"/>
<polygon points="50,0 116,0 116,64 93,84 72,96 52,110 35,109 14,114 22,91 30,60 40,26" fill="#184e8a"/>
<polygon points="72,0 116,0 116,45 98,62 80,52 66,25" fill="#1e5c9e"/>
<rect x="94" y="106" width="22" height="24" fill="#2a8ee6"/>
<text x="105" y="123" font-size="12" fill="#fff" text-anchor="middle">N</text>
</g>
</svg>
</body></html>
